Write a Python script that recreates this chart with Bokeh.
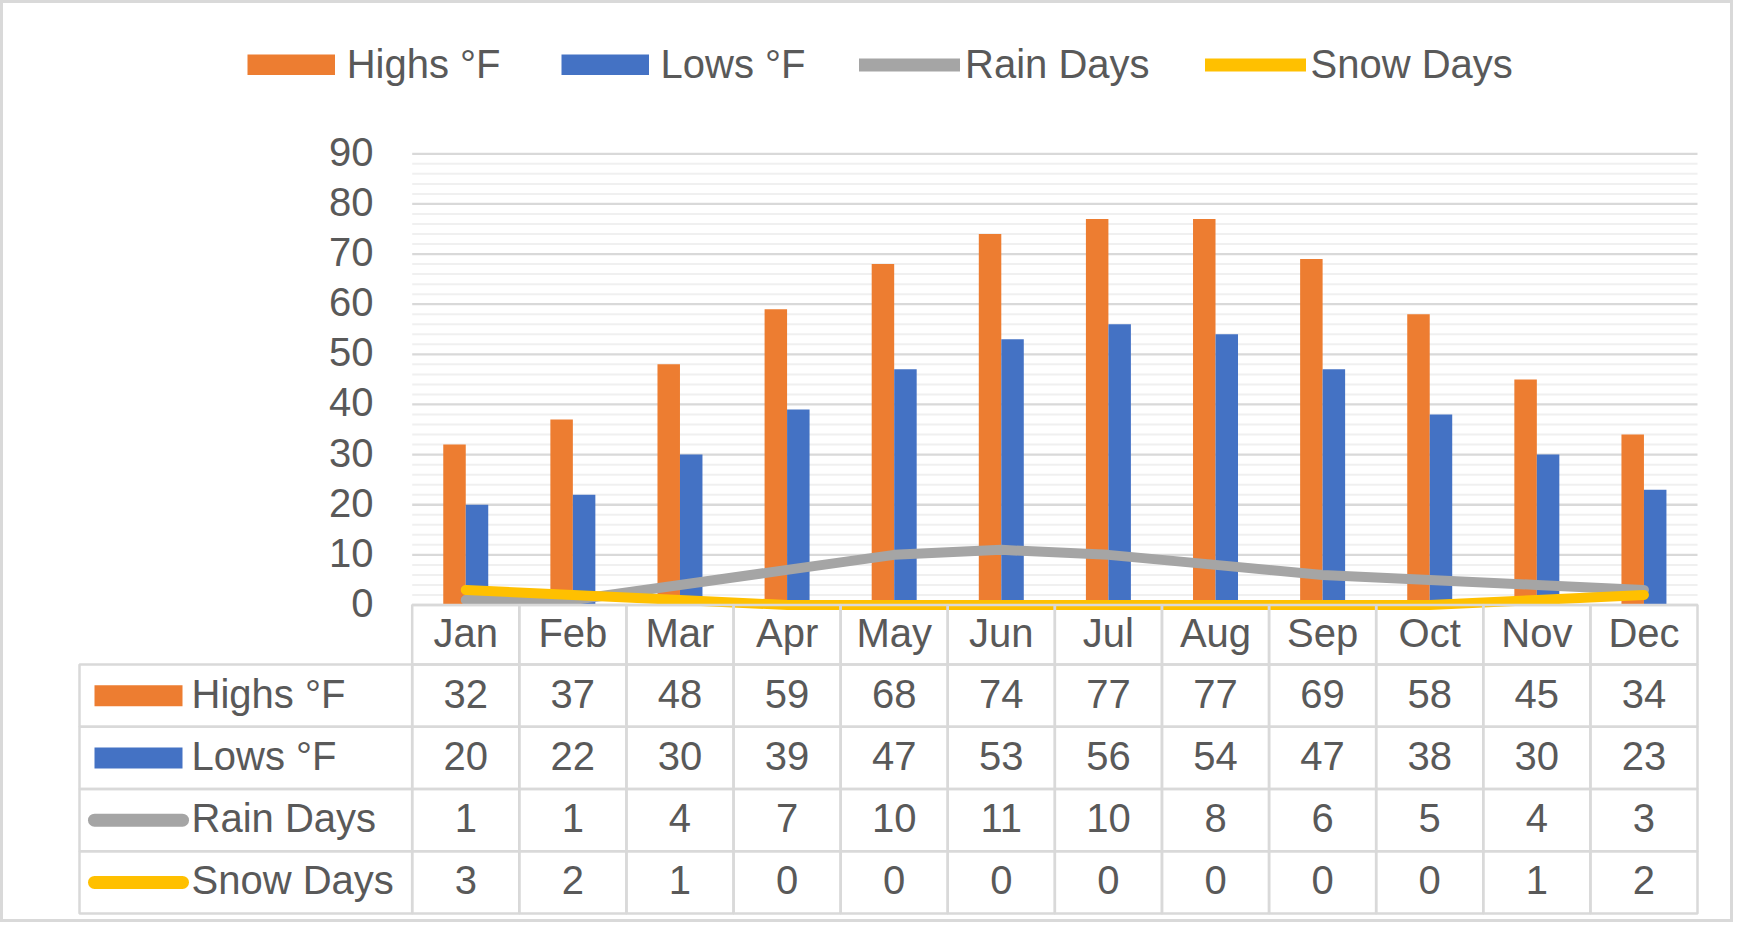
import numpy as np
from bokeh.plotting import figure
from bokeh.models import ColumnDataSource, Range1d, Legend, LegendItem
from bokeh.transform import dodge
from bokeh.core.properties import value
from bokeh.embed import file_html
from bokeh.resources import INLINE

# ---------------- data ----------------
months = ["Jan", "Feb", "Mar", "Apr", "May", "Jun", "Jul", "Aug", "Sep", "Oct", "Nov", "Dec"]
highs = [32, 37, 48, 59, 68, 74, 77, 77, 69, 58, 45, 34]
lows = [20, 22, 30, 39, 47, 53, 56, 54, 47, 38, 30, 23]
rain_days = [1, 1, 4, 7, 10, 11, 10, 8, 6, 5, 4, 3]
snow_days = [3, 2, 1, 0, 0, 0, 0, 0, 0, 0, 1, 2]
series_names = ["Highs °F", "Lows °F", "Rain Days", "Snow Days"]
y_ticks = list(range(0, 91, 10))
y_minor = [v for v in range(0, 91, 2) if v % 10]

# ---------------- style ----------------
ORANGE, BLUE, GRAY, YELLOW = "#ED7D31", "#4472C4", "#A5A5A5", "#FFC000"
TXT = "#595959"
GRID = "#D9D9D9"
GRID_MINOR = "#F0F0F0"
FONT = value("Liberation Sans")
FS = value("40px")
TY = -2  # small vertical text nudge (screen px)

# ---------------- layout (pixels) ----------------
W, H = 1733, 922
def from_bottom(Y):
    return H - Y

PLOT_L = 411.7
PLOT_R = 1697.0
n = len(months)
CAT_PX = (PLOT_R - PLOT_L) / n
ZERO = from_bottom(604.5)
TOP90 = from_bottom(153.3)
PPU = (TOP90 - ZERO) / 90.0
TABLE_BOT = from_bottom(913.0)
HEADER_PX = 59.5
ROW_PX = (ZERO - TABLE_BOT - HEADER_PX) / 4.0
HDR_TOP = 4 + HEADER_PX / ROW_PX

def xu(X):  # reference x pixel -> category units
    return (X - PLOT_L) / CAT_PX

p = figure(width=W, height=H,
           x_range=Range1d(-PLOT_L / CAT_PX, (W - PLOT_L) / CAT_PX),
           y_range=Range1d(-ZERO / PPU, (H - ZERO) / PPU),
           output_backend="svg", toolbar_location=None,
           x_axis_location=None, y_axis_location=None,
           min_border=0, min_border_left=0, min_border_right=0,
           min_border_top=0, min_border_bottom=0)
p.extra_y_ranges = {"table": Range1d(-TABLE_BOT / ROW_PX, (H - TABLE_BOT) / ROW_PX)}
p.grid.visible = False
p.background_fill_color = "white"
p.border_fill_color = "white"
p.outline_line_color = GRID
p.outline_line_width = 5

x_pos = np.arange(n) + 0.5
src = ColumnDataSource(dict(x=x_pos, month=months, highs=highs, lows=lows,
                            rain=rain_days, snow=snow_days))

# gridlines
p.segment(x0=x_pos[0] - 0.5, x1=x_pos[-1] + 0.5, y0=y_minor, y1=y_minor,
          line_color=GRID_MINOR, line_width=2)
p.segment(x0=x_pos[0] - 0.5, x1=x_pos[-1] + 0.5, y0=y_ticks, y1=y_ticks,
          line_color=GRID, line_width=2.3)

# y tick labels
p.text(x=x_pos[0] - 0.5, y=y_ticks, text=[str(v) for v in y_ticks], x_offset=-38.7,
       y_offset=TY, text_align="right", text_baseline="middle", text_font=FONT,
       text_font_size=FS, text_color=TXT)

# bars
BAR_W = 0.21
p.vbar(x=dodge("x", -BAR_W / 2), top="highs", bottom=0, width=BAR_W, source=src,
       fill_color=ORANGE, line_color=None)
p.vbar(x=dodge("x", BAR_W / 2), top="lows", bottom=0, width=BAR_W, source=src,
       fill_color=BLUE, line_color=None)

# lines
p.line(x="x", y="rain", source=src, line_color=GRAY, line_width=10,
       line_cap="round", line_join="round")
p.line(x="x", y="snow", source=src, line_color=YELLOW, line_width=10,
       line_cap="round", line_join="round")

# ---------------- top legend ----------------
nan_src = ColumnDataSource(dict(x=[np.nan], y=[np.nan]))
lr_h = p.line("x", "y", source=nan_src, line_color=ORANGE, line_width=21, line_cap="butt")
lr_l = p.line("x", "y", source=nan_src, line_color=BLUE, line_width=21, line_cap="butt")
lr_r = p.line("x", "y", source=nan_src, line_color=GRAY, line_width=13, line_cap="round")
lr_s = p.line("x", "y", source=nan_src, line_color=YELLOW, line_width=13, line_cap="round")
leg_kw = dict(orientation="horizontal", glyph_height=21, padding=0, margin=0,
              border_line_color=None, background_fill_alpha=0,
              label_text_font="Liberation Sans", label_text_font_size="40px",
              label_text_color=TXT)
legend_a = Legend(items=[LegendItem(label=series_names[0], renderers=[lr_h], index=0),
                         LegendItem(label=series_names[1], renderers=[lr_l], index=0)],
                  location=(246.7, from_bottom(63.5) - 23),
                  glyph_width=88, label_standoff=12, spacing=60, **leg_kw)
legend_b = Legend(items=[LegendItem(label=series_names[2], renderers=[lr_r], index=0),
                         LegendItem(label=series_names[3], renderers=[lr_s], index=0)],
                  location=(859, from_bottom(63.5) - 23),
                  glyph_width=101, label_standoff=5, spacing=55, **leg_kw)
p.add_layout(legend_a)
p.add_layout(legend_b)

# ---------------- data table ----------------
row_vals = [highs, lows, rain_days, snow_days]
row_centers = [3.5, 2.5, 1.5, 0.5]

# header cells
p.quad(left=x_pos - 0.5, right=x_pos + 0.5, bottom=4, top=HDR_TOP,
       fill_color=None, line_color=GRID, line_width=2.5, y_range_name="table")
p.text(x=x_pos, y=(4 + HDR_TOP) / 2, text=months, text_align="center", y_offset=TY,
       text_baseline="middle", text_font=FONT, text_font_size=FS,
       text_color=TXT, y_range_name="table")

# body cells
cell_l, cell_r, cell_b, cell_t, cell_x, cell_y, cell_txt = [], [], [], [], [], [], []
for rc, vals in zip(row_centers, row_vals):
    for xi, v in zip(x_pos, vals):
        cell_l.append(xi - 0.5); cell_r.append(xi + 0.5)
        cell_b.append(rc - 0.5); cell_t.append(rc + 0.5)
        cell_x.append(xi); cell_y.append(rc); cell_txt.append(str(v))
    cell_l.append(xu(79)); cell_r.append(x_pos[0] - 0.5)
    cell_b.append(rc - 0.5); cell_t.append(rc + 0.5)
p.quad(left=cell_l, right=cell_r, bottom=cell_b, top=cell_t,
       fill_color=None, line_color=GRID, line_width=2.5, y_range_name="table")
p.text(x=cell_x, y=cell_y, text=cell_txt, text_align="center", y_offset=TY,
       text_baseline="middle", text_font=FONT, text_font_size=FS,
       text_color=TXT, y_range_name="table")

# legend keys in table
key_cx = (xu(94) + xu(182)) / 2
p.rect(x=key_cx, y=row_centers[0], width=88, height=21, width_units="screen",
       height_units="screen", fill_color=ORANGE, line_color=None, y_range_name="table")
p.rect(x=key_cx, y=row_centers[1], width=88, height=21, width_units="screen",
       height_units="screen", fill_color=BLUE, line_color=None, y_range_name="table")
p.segment(x0=xu(94), x1=xu(182), y0=row_centers[2], y1=row_centers[2],
          line_color=GRAY, line_width=13, line_cap="round", y_range_name="table")
p.segment(x0=xu(94), x1=xu(182), y0=row_centers[3], y1=row_centers[3],
          line_color=YELLOW, line_width=13, line_cap="round", y_range_name="table")
p.text(x=xu(191), y=row_centers, text=series_names, text_align="left", y_offset=TY,
       text_baseline="middle", text_font=FONT, text_font_size=FS,
       text_color=TXT, y_range_name="table")

open("out.html", "w").write(file_html(p, INLINE))
